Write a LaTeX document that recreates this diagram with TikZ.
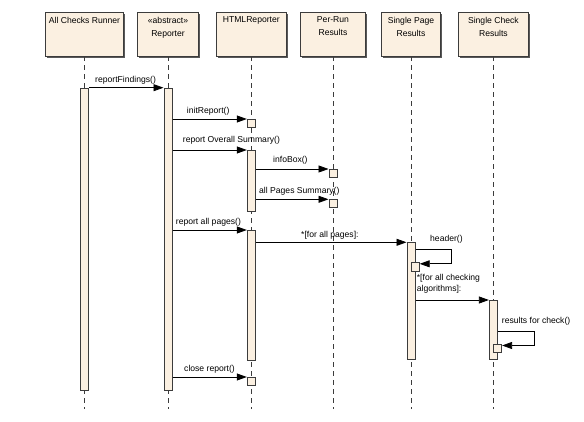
\documentclass[tikz,border=0pt]{standalone}
\usepackage{fontspec}
\setmainfont{Liberation Sans}
\usetikzlibrary{arrows.meta,shadows,calc}
\definecolor{boxfill}{RGB}{251,240,225}
\definecolor{edge}{RGB}{60,60,60}
\tikzset{
 head/.style={draw=edge, line width=0.8pt, fill=boxfill, minimum height=43.3pt, inner sep=0pt,
   drop shadow={shadow xshift=1.6pt, shadow yshift=-1.6pt, fill=black!65, opacity=1}},
 htext/.style={anchor=north, align=center, inner sep=0pt, font=\fontsize{8.6}{13}\selectfont},
 life/.style={draw=edge, line width=0.8pt, dash pattern=on 5pt off 4pt},
 act/.style={draw=edge, line width=0.7pt, fill=boxfill, inner sep=0pt, minimum width=8.3pt, anchor=north},
 msg/.style={draw=black, line width=0.8pt, -{Triangle[length=10pt,width=7pt]}},
 lbl/.style={anchor=west, inner sep=0pt, font=\fontsize{8.6}{11.3}\selectfont, align=left},
}
\begin{document}
\begin{tikzpicture}[x=1pt,y=-1pt]
\useasboundingbox (0,0) rectangle (584,422);
% header boxes
\node[head, minimum width=78pt]   (h1) at (84.5,34.3) {};
\node[head, minimum width=61pt]   (h2) at (168,34.3) {};
\node[head, minimum width=70.7pt] (h3) at (251.3,34.3) {};
\node[head, minimum width=65.7pt] (h4) at (333,34.3) {};
\node[head, minimum width=59.3pt] (h5) at (411,34.3) {};
\node[head, minimum width=69.7pt] (h6) at (493.4,34.3) {};
\node[htext] (t1) at (84.5,16.8) {All Checks Runner};
\node[htext] (t2) at (168,16.8) {«abstract»\\Reporter};
\node[htext] (t3) at (251.3,16.8) {HTMLReporter};
\node[htext] (t4) at (333,16.8) {Per-Run\\Results};
\node[htext] (t5) at (411,16.8) {Single Page\\Results};
\node[htext] (t6) at (493.4,16.8) {Single Check\\Results};
% lifelines
\coordinate (e1) at (84.5,409);
\coordinate (e2) at (168,409);
\coordinate (e3) at (251.3,409);
\coordinate (e4) at (333,409);
\coordinate (e5) at (411,409);
\coordinate (e6) at (493.4,409);
\draw[life] (h1.south) -- (e1);
\draw[life] (h2.south) -- (e2);
\draw[life] (h3.south) -- (e3);
\draw[life] (h4.south) -- (e4);
\draw[life] (h5.south) -- (e5);
\draw[life] (h6.south) -- (e6);
% activations
\node[act, minimum height=302.3pt] (a1) at (84.5,87.7) {};
\node[act, minimum height=302.3pt] (a2) at (168,87.7) {};
\node[act, minimum height=7.7pt] (ib) at (251.3,119) {};
\node[act, minimum height=61pt] (ha1) at (251.3,150) {};
\node[act, minimum height=7.7pt] (ifb) at (333,169) {};
\node[act, minimum height=7.7pt] (psb) at (333,199.3) {};
\node[act, minimum height=129.5pt] (ha2) at (251.3,230) {};
\node[act, minimum height=117pt] (pa) at (411,242.3) {};
\node[act, minimum height=8.7pt] (hb) at (415.2,262.3) {};
\node[act, minimum height=59.3pt] (ca) at (493.4,300) {};
\node[act, minimum height=8.3pt] (rb) at (497.6,344) {};
\node[act, minimum height=8pt] (cb) at (251.3,377) {};
% messages
\draw[msg] (a1.east |- a2.north west) -- (a2.north west);
\draw[msg] (a2.east |- ib.north west) -- (ib.north west);
\draw[msg] (a2.east |- ha1.north west) -- (ha1.north west);
\draw[msg] (ha1.east |- ifb.north west) -- (ifb.north west);
\draw[msg] (ha1.east |- psb.north west) -- (psb.north west);
\draw[msg] (a2.east |- ha2.north west) -- (ha2.north west);
\draw[msg] (ha2.east |- pa.north west) -- (pa.north west);
\coordinate (hs) at ($(pa.north east)+(0,7)$);
\draw[msg] (hs) -- ++(36,0) |- ([yshift=-1.5pt]hb.north east);
\draw[msg] (pa.east |- ca.north west) -- (ca.north west);
\coordinate (rs) at ($(ca.north east)+(0,31)$);
\draw[msg] (rs) -- ++(36,0) |- ([yshift=-1.5pt]rb.north east);
\draw[msg] (a2.east |- cb.north west) -- (cb.north west);
% labels
\node[lbl] (l1) at (95,80) {reportFindings()};
\node[lbl] (l2) at (186.7,111) {initReport()};
\node[lbl] (l3) at (182.7,140.5) {report Overall Summary()};
\node[lbl] (l4) at (273,160.7) {infoBox()};
\node[lbl] (l5) at (259,191.7) {all Pages Summary()};
\node[lbl] (l6) at (175.7,222.7) {report all pages()};
\node[lbl] (l7) at (301,235) {*[for all pages]:};
\node[lbl] (l8) at (430,239) {header()};
\node[lbl, anchor=north west] (l9) at (416.7,274.2) {*[for all checking\\algorithms]:};
\node[lbl] (l10) at (501.7,321.7) {results for check()};
\node[lbl] (l11) at (184,369.3) {close report()};
\end{tikzpicture}
\end{document}
